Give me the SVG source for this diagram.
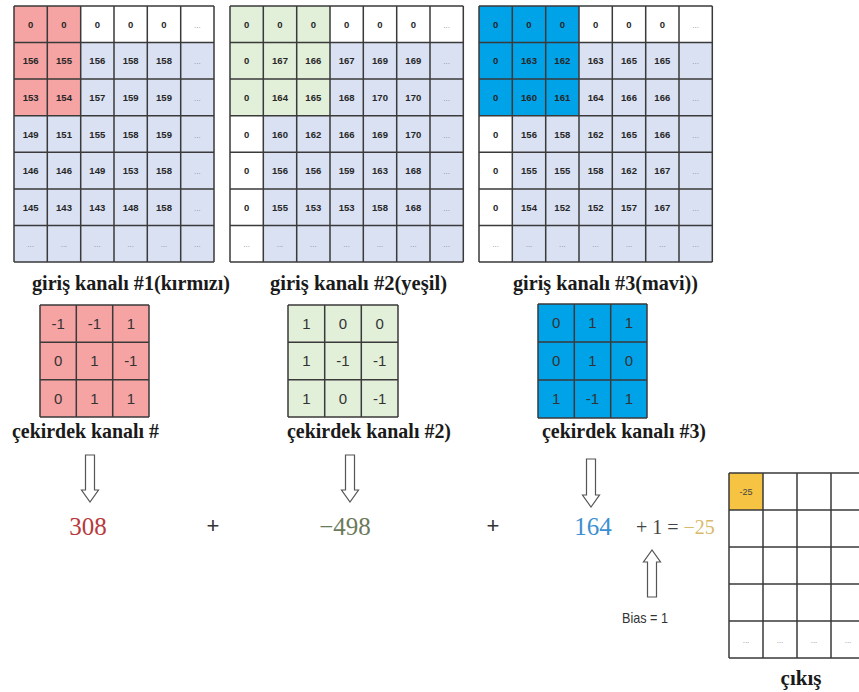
<svg xmlns="http://www.w3.org/2000/svg" width="859" height="692" viewBox="0 0 859 692">
  <style>
    .grid { fill: none; stroke: #3a3a3a; stroke-width: 1.5; }
    .cell { font-family: "Liberation Sans", Arial, sans-serif; font-size: 9.5px; font-weight: bold; fill: #262626; text-anchor: middle; }
    .dots { font-family: "Liberation Sans", Arial, sans-serif; font-size: 8px; fill: #8a8a9a; text-anchor: middle; }
    .kern { font-family: "Liberation Sans", Arial, sans-serif; font-size: 15px; fill: #333; text-anchor: middle; }
    .label { font-family: "Liberation Serif", "Times New Roman", serif; font-size: 21px; font-weight: bold; fill: #1a1a1a; }
    .num { font-family: "Liberation Serif", "Times New Roman", serif; font-size: 25px; text-anchor: middle; }
    .op { font-family: "Liberation Sans", Arial, sans-serif; font-size: 22px; fill: #333; text-anchor: middle; }
    .arrow { fill: #fff; stroke: #555; stroke-width: 1.2; }
  </style>

  <!-- input channel 1 (red) -->
  <g id="input-red">
    <rect x="14" y="6" width="200" height="256" fill="#d9e1f2"/>
    <rect x="80.7" y="6" width="133.3" height="36.6" fill="#ffffff"/>
    <rect x="14" y="6" width="66.7" height="109.7" fill="#f5a3a3"/>
    <path class="grid" d="M14 6V262M47.3 6V262M80.7 6V262M114 6V262M147.3 6V262M180.7 6V262M214 6V262M14 6H214M14 42.6H214M14 79.1H214M14 115.7H214M14 152.3H214M14 188.9H214M14 225.4H214M14 262H214"/>
    <text class="cell" x="30.7" y="27.8">0</text><text class="cell" x="64" y="27.8">0</text><text class="cell" x="97.3" y="27.8">0</text><text class="cell" x="130.7" y="27.8">0</text><text class="cell" x="164" y="27.8">0</text><text class="dots" x="197.3" y="27.8">...</text>
    <text class="cell" x="30.7" y="64.4">156</text><text class="cell" x="64" y="64.4">155</text><text class="cell" x="97.3" y="64.4">156</text><text class="cell" x="130.7" y="64.4">158</text><text class="cell" x="164" y="64.4">158</text><text class="dots" x="197.3" y="64.4">...</text>
    <text class="cell" x="30.7" y="100.9">153</text><text class="cell" x="64" y="100.9">154</text><text class="cell" x="97.3" y="100.9">157</text><text class="cell" x="130.7" y="100.9">159</text><text class="cell" x="164" y="100.9">159</text><text class="dots" x="197.3" y="100.9">...</text>
    <text class="cell" x="30.7" y="137.5">149</text><text class="cell" x="64" y="137.5">151</text><text class="cell" x="97.3" y="137.5">155</text><text class="cell" x="130.7" y="137.5">158</text><text class="cell" x="164" y="137.5">159</text><text class="dots" x="197.3" y="137.5">...</text>
    <text class="cell" x="30.7" y="174.1">146</text><text class="cell" x="64" y="174.1">146</text><text class="cell" x="97.3" y="174.1">149</text><text class="cell" x="130.7" y="174.1">153</text><text class="cell" x="164" y="174.1">158</text><text class="dots" x="197.3" y="174.1">...</text>
    <text class="cell" x="30.7" y="210.6">145</text><text class="cell" x="64" y="210.6">143</text><text class="cell" x="97.3" y="210.6">143</text><text class="cell" x="130.7" y="210.6">148</text><text class="cell" x="164" y="210.6">158</text><text class="dots" x="197.3" y="210.6">...</text>
    <text class="dots" x="30.7" y="247.2">...</text><text class="dots" x="64" y="247.2">...</text><text class="dots" x="97.3" y="247.2">...</text><text class="dots" x="130.7" y="247.2">...</text><text class="dots" x="164" y="247.2">...</text><text class="dots" x="197.3" y="247.2">...</text>
    <text class="label" x="32" y="290" textLength="198" lengthAdjust="spacingAndGlyphs">giriş kanalı #1(kırmızı)</text>
  </g>

  <!-- input channel 2 (green) -->
  <g id="input-green">
    <rect x="230" y="6" width="233.3" height="256" fill="#d9e1f2"/>
    <rect x="330" y="6" width="133.3" height="36.6" fill="#ffffff"/>
    <rect x="230" y="115.7" width="33.3" height="146.3" fill="#ffffff"/>
    <rect x="230" y="6" width="100" height="109.7" fill="#e2efd9"/>
    <path class="grid" d="M230 6V262M263.3 6V262M296.7 6V262M330 6V262M363.3 6V262M396.7 6V262M430 6V262M463.3 6V262M230 6H463.3M230 42.6H463.3M230 79.1H463.3M230 115.7H463.3M230 152.3H463.3M230 188.9H463.3M230 225.4H463.3M230 262H463.3"/>
    <text class="cell" x="246.7" y="27.8">0</text><text class="cell" x="280" y="27.8">0</text><text class="cell" x="313.3" y="27.8">0</text><text class="cell" x="346.7" y="27.8">0</text><text class="cell" x="380" y="27.8">0</text><text class="cell" x="413.3" y="27.8">0</text><text class="dots" x="446.7" y="27.8">...</text>
    <text class="cell" x="246.7" y="64.4">0</text><text class="cell" x="280" y="64.4">167</text><text class="cell" x="313.3" y="64.4">166</text><text class="cell" x="346.7" y="64.4">167</text><text class="cell" x="380" y="64.4">169</text><text class="cell" x="413.3" y="64.4">169</text><text class="dots" x="446.7" y="64.4">...</text>
    <text class="cell" x="246.7" y="100.9">0</text><text class="cell" x="280" y="100.9">164</text><text class="cell" x="313.3" y="100.9">165</text><text class="cell" x="346.7" y="100.9">168</text><text class="cell" x="380" y="100.9">170</text><text class="cell" x="413.3" y="100.9">170</text><text class="dots" x="446.7" y="100.9">...</text>
    <text class="cell" x="246.7" y="137.5">0</text><text class="cell" x="280" y="137.5">160</text><text class="cell" x="313.3" y="137.5">162</text><text class="cell" x="346.7" y="137.5">166</text><text class="cell" x="380" y="137.5">169</text><text class="cell" x="413.3" y="137.5">170</text><text class="dots" x="446.7" y="137.5">...</text>
    <text class="cell" x="246.7" y="174.1">0</text><text class="cell" x="280" y="174.1">156</text><text class="cell" x="313.3" y="174.1">156</text><text class="cell" x="346.7" y="174.1">159</text><text class="cell" x="380" y="174.1">163</text><text class="cell" x="413.3" y="174.1">168</text><text class="dots" x="446.7" y="174.1">...</text>
    <text class="cell" x="246.7" y="210.6">0</text><text class="cell" x="280" y="210.6">155</text><text class="cell" x="313.3" y="210.6">153</text><text class="cell" x="346.7" y="210.6">153</text><text class="cell" x="380" y="210.6">158</text><text class="cell" x="413.3" y="210.6">168</text><text class="dots" x="446.7" y="210.6">...</text>
    <text class="dots" x="246.7" y="247.2">...</text><text class="dots" x="280" y="247.2">...</text><text class="dots" x="313.3" y="247.2">...</text><text class="dots" x="346.7" y="247.2">...</text><text class="dots" x="380" y="247.2">...</text><text class="dots" x="413.3" y="247.2">...</text><text class="dots" x="446.7" y="247.2">...</text>
    <text class="label" x="270" y="290" textLength="177" lengthAdjust="spacingAndGlyphs">giriş kanalı #2(yeşil)</text>
  </g>

  <!-- input channel 3 (blue) -->
  <g id="input-blue">
    <rect x="479" y="6" width="233.3" height="256" fill="#d9e1f2"/>
    <rect x="579" y="6" width="133.3" height="36.6" fill="#ffffff"/>
    <rect x="479" y="115.7" width="33.3" height="146.3" fill="#ffffff"/>
    <rect x="479" y="6" width="100" height="109.7" fill="#00a2e8"/>
    <path class="grid" d="M479 6V262M512.3 6V262M545.7 6V262M579 6V262M612.3 6V262M645.7 6V262M679 6V262M712.3 6V262M479 6H712.3M479 42.6H712.3M479 79.1H712.3M479 115.7H712.3M479 152.3H712.3M479 188.9H712.3M479 225.4H712.3M479 262H712.3"/>
    <text class="cell" x="495.7" y="27.8">0</text><text class="cell" x="529" y="27.8">0</text><text class="cell" x="562.3" y="27.8">0</text><text class="cell" x="595.7" y="27.8">0</text><text class="cell" x="629" y="27.8">0</text><text class="cell" x="662.3" y="27.8">0</text><text class="dots" x="695.7" y="27.8">...</text>
    <text class="cell" x="495.7" y="64.4">0</text><text class="cell" x="529" y="64.4">163</text><text class="cell" x="562.3" y="64.4">162</text><text class="cell" x="595.7" y="64.4">163</text><text class="cell" x="629" y="64.4">165</text><text class="cell" x="662.3" y="64.4">165</text><text class="dots" x="695.7" y="64.4">...</text>
    <text class="cell" x="495.7" y="100.9">0</text><text class="cell" x="529" y="100.9">160</text><text class="cell" x="562.3" y="100.9">161</text><text class="cell" x="595.7" y="100.9">164</text><text class="cell" x="629" y="100.9">166</text><text class="cell" x="662.3" y="100.9">166</text><text class="dots" x="695.7" y="100.9">...</text>
    <text class="cell" x="495.7" y="137.5">0</text><text class="cell" x="529" y="137.5">156</text><text class="cell" x="562.3" y="137.5">158</text><text class="cell" x="595.7" y="137.5">162</text><text class="cell" x="629" y="137.5">165</text><text class="cell" x="662.3" y="137.5">166</text><text class="dots" x="695.7" y="137.5">...</text>
    <text class="cell" x="495.7" y="174.1">0</text><text class="cell" x="529" y="174.1">155</text><text class="cell" x="562.3" y="174.1">155</text><text class="cell" x="595.7" y="174.1">158</text><text class="cell" x="629" y="174.1">162</text><text class="cell" x="662.3" y="174.1">167</text><text class="dots" x="695.7" y="174.1">...</text>
    <text class="cell" x="495.7" y="210.6">0</text><text class="cell" x="529" y="210.6">154</text><text class="cell" x="562.3" y="210.6">152</text><text class="cell" x="595.7" y="210.6">152</text><text class="cell" x="629" y="210.6">157</text><text class="cell" x="662.3" y="210.6">167</text><text class="dots" x="695.7" y="210.6">...</text>
    <text class="dots" x="495.7" y="247.2">...</text><text class="dots" x="529" y="247.2">...</text><text class="dots" x="562.3" y="247.2">...</text><text class="dots" x="595.7" y="247.2">...</text><text class="dots" x="629" y="247.2">...</text><text class="dots" x="662.3" y="247.2">...</text><text class="dots" x="695.7" y="247.2">...</text>
    <text class="label" x="513" y="290" textLength="185" lengthAdjust="spacingAndGlyphs">giriş kanalı #3(mavi))</text>
  </g>

  <!-- kernel channel 1 -->
  <g id="kernel-red">
    <rect x="40" y="305" width="109" height="112" fill="#f5a3a3"/>
    <path class="grid" d="M40 305V417M76.3 305V417M112.7 305V417M149 305V417M40 305H149M40 342.3H149M40 379.7H149M40 417H149"/>
    <text class="kern" x="58.2" y="329">-1</text><text class="kern" x="94.5" y="329">-1</text><text class="kern" x="130.8" y="329">1</text>
    <text class="kern" x="58.2" y="366.3">0</text><text class="kern" x="94.5" y="366.3">1</text><text class="kern" x="130.8" y="366.3">-1</text>
    <text class="kern" x="58.2" y="403.6">0</text><text class="kern" x="94.5" y="403.6">1</text><text class="kern" x="130.8" y="403.6">1</text>
    <text class="label" x="12" y="438" textLength="147" lengthAdjust="spacingAndGlyphs">çekirdek kanalı #</text>
  </g>

  <!-- kernel channel 2 -->
  <g id="kernel-green">
    <rect x="288" y="305" width="110" height="112" fill="#e2efd9"/>
    <path class="grid" d="M288 305V417M324.7 305V417M361.3 305V417M398 305V417M288 305H398M288 342.3H398M288 379.7H398M288 417H398"/>
    <text class="kern" x="306.3" y="329">1</text><text class="kern" x="343" y="329">0</text><text class="kern" x="379.7" y="329">0</text>
    <text class="kern" x="306.3" y="366.3">1</text><text class="kern" x="343" y="366.3">-1</text><text class="kern" x="379.7" y="366.3">-1</text>
    <text class="kern" x="306.3" y="403.6">1</text><text class="kern" x="343" y="403.6">0</text><text class="kern" x="379.7" y="403.6">-1</text>
    <text class="label" x="287" y="438" textLength="164" lengthAdjust="spacingAndGlyphs">çekirdek kanalı #2)</text>
  </g>

  <!-- kernel channel 3 -->
  <g id="kernel-blue">
    <rect x="538" y="304" width="109" height="114" fill="#00a2e8"/>
    <path class="grid" d="M538 304V418M574.3 304V418M610.7 304V418M647 304V418M538 304H647M538 342H647M538 380H647M538 418H647"/>
    <text class="kern" x="556.2" y="328.3">0</text><text class="kern" x="592.5" y="328.3">1</text><text class="kern" x="628.8" y="328.3">1</text>
    <text class="kern" x="556.2" y="366.3">0</text><text class="kern" x="592.5" y="366.3">1</text><text class="kern" x="628.8" y="366.3">0</text>
    <text class="kern" x="556.2" y="404.3">1</text><text class="kern" x="592.5" y="404.3">-1</text><text class="kern" x="628.8" y="404.3">1</text>
    <text class="label" x="542" y="438" textLength="164" lengthAdjust="spacingAndGlyphs">çekirdek kanalı #3)</text>
  </g>

  <!-- per-channel sums, bias and result -->
  <g id="sum">
    <text class="num" x="88" y="535" fill="#b83a3c">308</text>
    <text class="op" x="213" y="533">+</text>
    <text class="num" x="345" y="535" fill="#6c7a5c">−498</text>
    <text class="op" x="493" y="533">+</text>
    <text class="num" x="593" y="535" fill="#3d8fd1">164</text>
    <text x="636" y="534" font-family="Liberation Serif, Times New Roman, serif" font-size="20" fill="#444">+ 1 = <tspan fill="#d9b96a">−25</tspan></text>
  </g>

  <g id="bias">
    <text x="645" y="623" font-family="Liberation Sans, Arial, sans-serif" font-size="15" fill="#333" text-anchor="middle" textLength="46" lengthAdjust="spacingAndGlyphs">Bias = 1</text>
  </g>

  <!-- output feature map -->
  <g id="output">
    <rect x="729" y="473" width="137" height="185" fill="#ffffff"/>
    <rect x="729" y="473" width="34" height="37" fill="#f6c342"/>
    <path class="grid" d="M729 473V658M763 473V658M797 473V658M831 473V658M865 473V658M729 473H866M729 510H866M729 547H866M729 584H866M729 621H866M729 658H866"/>
    <text x="746" y="495" font-family="Liberation Sans, Arial, sans-serif" font-size="9" fill="#444" text-anchor="middle">-25</text>
    <text class="dots" x="746" y="643">...</text><text class="dots" x="780" y="643">...</text><text class="dots" x="814" y="643">...</text><text class="dots" x="848" y="643">...</text>
    <text class="label" x="801" y="685" text-anchor="middle" font-size="21">çıkış</text>
  </g>

  <!-- hollow arrows -->
  <g id="connectors">
    <path class="arrow" d="M85.5 455H94.5V490H98.5L90 502L81.5 490H85.5Z"/>
    <path class="arrow" d="M345.5 455H354.5V490H358.5L350 502L341.5 490H345.5Z"/>
    <path class="arrow" d="M586.5 459H595.5V495H599.5L591 507L582.5 495H586.5Z"/>
    <path class="arrow" d="M647.5 597H656.5V562H660.5L652 550L643.5 562H647.5Z"/>
  </g>
</svg>
